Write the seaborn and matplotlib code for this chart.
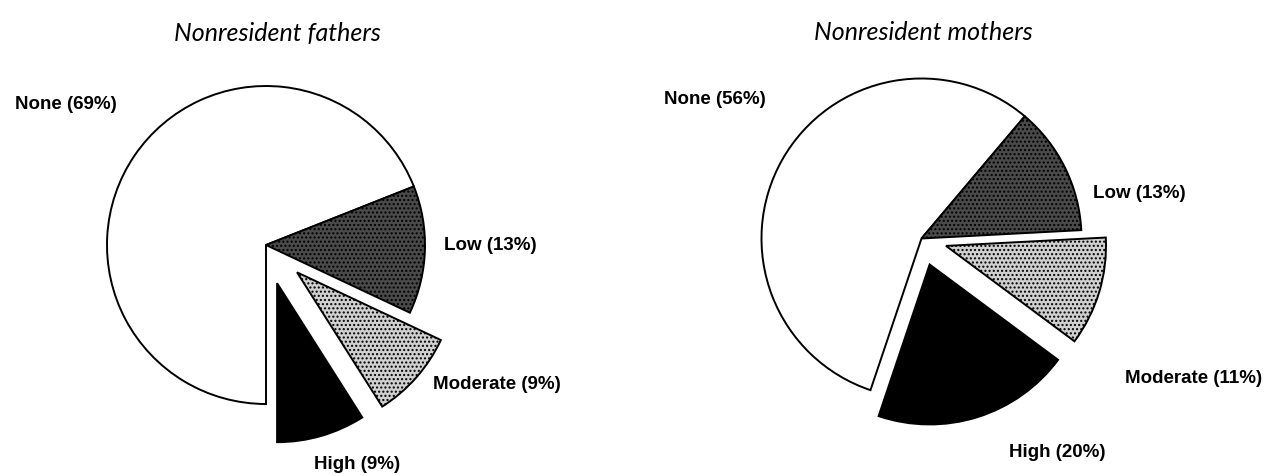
import seaborn as sns
import matplotlib.pyplot as plt

# data
categories = ['None', 'Low', 'Moderate', 'High']
fathers_pct = [69, 13, 9, 9]
mothers_pct = [56, 13, 11, 20]
titles = ['Nonresident fathers', 'Nonresident mothers']

sns.set_style('white')
plt.rcParams['font.family'] = ['Liberation Sans', 'DejaVu Sans']

# white, dark stipple, light stipple, black
colors = ['white', '#4a4a4a', '#d0d0d0', 'black']
hatches = [None, '....', '....', None]

# layout: axes box (px), pie centre (px), radius (px), start angle, explode, label spots
panels = [
    dict(box=(0, 636), center=(266, 246), r=159, start=270,
         explode=[0, 0, 0.26, 0.25],
         label_xy=[(-1.258, 0.887), (1.409, 0.006), (1.453, -0.874), (0.572, -1.377)],
         title_x=277),
    dict(box=(636, 1272), center=(921.5, 239.5), r=160, start=251.4,
         explode=[0, 0, 0.16, 0.17],
         label_xy=[(-1.29, 0.872), (1.362, 0.29), (1.703, -0.866), (0.847, -1.334)],
         title_x=923),
]

W, H = 1272, 477
fig = plt.figure(figsize=(W / 100, H / 100), dpi=100)

for values, title, p in zip([fathers_pct, mothers_pct], titles, panels):
    x0, x1 = p['box']
    ax = fig.add_axes([x0 / W, 0, (x1 - x0) / W, 1])
    labels = ['{} ({}%)'.format(c, v) for c, v in zip(categories, values)]
    wedges, texts = ax.pie(values, labels=labels, colors=colors,
                           startangle=p['start'], counterclock=False,
                           explode=p['explode'],
                           wedgeprops=dict(edgecolor='black', linewidth=1.4))
    for w, h in zip(wedges, hatches):
        if h:
            w.set_hatch(h)
    for t, (lx, ly) in zip(texts, p['label_xy']):
        t.set_position((lx, ly))
        t.set_ha('center')
        t.set_va('center')
        t.set_fontsize(13.5)
        t.set_fontweight('bold')
        t.set_color('black')

    cx, cy = p['center']
    r = p['r']
    ax.set_xlim((x0 - cx) / r, (x1 - cx) / r)
    ax.set_ylim(-(H - cy) / r, cy / r)
    ax.set_aspect('equal')
    ax.axis('off')

    fig.text(p['title_x'] / W, 1 - 33 / H, title, ha='center', va='center',
             fontsize=18, style='italic', weight='normal', color='black',
             family=['Lato', 'DejaVu Sans'])

plt.savefig('out.png', dpi=100)
